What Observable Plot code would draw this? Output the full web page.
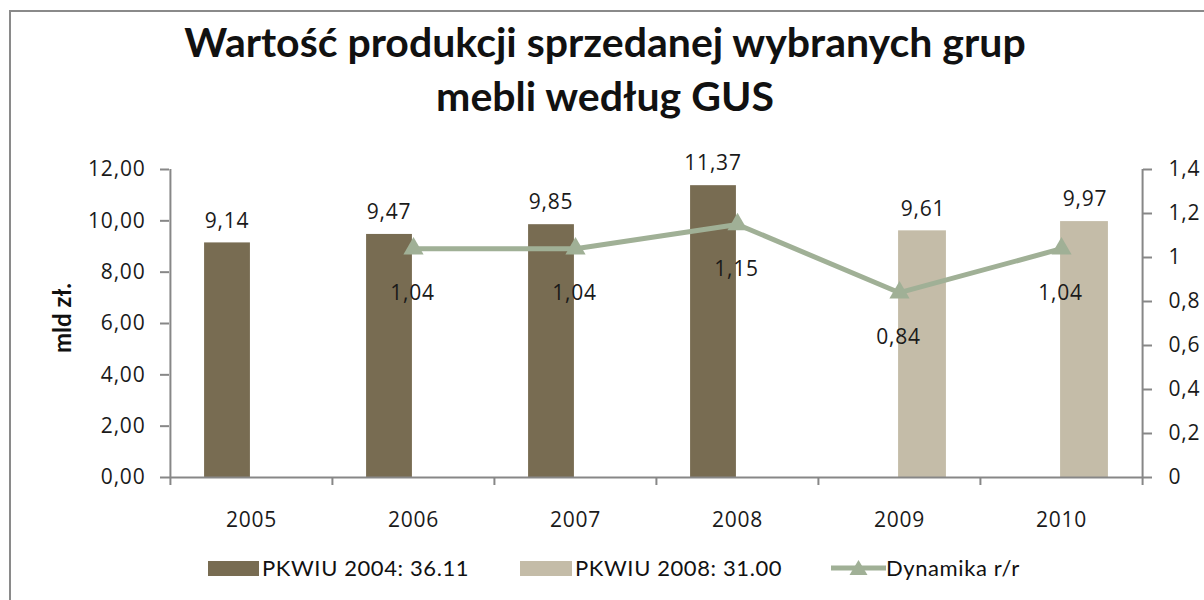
<!DOCTYPE html>
<html><head><meta charset="utf-8">
<script src="https://cdn.jsdelivr.net/npm/d3@7"></script>
<script src="https://cdn.jsdelivr.net/npm/@observablehq/plot@0.6"></script>
<style>
body{margin:0;background:#fff;}
#wrap{position:relative;width:1204px;height:600px;overflow:hidden;font-family:"Open Sans",sans-serif;color:#1a1a1a;background:#fff}
#frame{position:absolute;left:9px;top:10px;width:1230px;height:630px;border:2px solid #8a8a8a;box-sizing:border-box}
#title{position:absolute;left:9px;width:1192px;top:15px;text-align:center;font-family:Lato,sans-serif;font-weight:bold;font-size:41px;line-height:54px;color:#111}
#chart{position:absolute;left:0;top:140px}
#ylab{position:absolute;left:61px;top:318px;transform:translate(-50%,-50%) rotate(-90deg);font-family:Lato,sans-serif;font-weight:bold;font-size:24px;white-space:nowrap;color:#111}
.lg{position:absolute;font-family:Lato,sans-serif;font-size:22px;letter-spacing:0.6px;line-height:22px;top:557px;white-space:nowrap;color:#111}
.sw{position:absolute;top:561px;height:15px}
</style>
</head><body>
<div id="wrap">
<div id="frame"></div>
<div id="title">Wartość produkcji sprzedanej wybranych grup<br>mebli według GUS</div>
<div id="chart"></div>
<div id="ylab">mld zł.</div>
<div id="legend"></div>
</div>
<script>
const years = ["2005", "2006", "2007", "2008", "2009", "2010"];
const pkwiu2004 = [9.14, 9.47, 9.85, 11.37, null, null];
const pkwiu2008 = [null, null, null, null, 9.61, 9.97];
const dynamika = [null, 1.04, 1.04, 1.15, 0.84, 1.04];
const leftTicks = [0, 2, 4, 6, 8, 10, 12];
const rightTicks = [0, 0.2, 0.4, 0.6, 0.8, 1, 1.2, 1.4];
const seriesNames = ["PKWIU 2004: 36.11", "PKWIU 2008: 31.00", "Dynamika r/r"];
const colors = ["#786c52", "#c4bca8", "#a0b096"];

const W = 1204, H = 400, mL = 169, mR = 62, mT = 29, mB = 63;
const bw = (W - mL - mR) / years.length;
const barW = 47;
const FS = 21;
const k = 12 / 1.4; // right axis -> left axis units
const numFmt = v => v.toFixed(2).replace(".", ",");
const rightFmt = d => String(Math.round(d / k * 10) / 10).replace(".", ",");

const dark = years.map((y, i) => ({year: y, v: pkwiu2004[i]})).filter(d => d.v != null);
const light = years.map((y, i) => ({year: y, v: pkwiu2008[i]})).filter(d => d.v != null);
const dyn = years.map((y, i) => ({year: y, v: dynamika[i]})).filter(d => d.v != null);
const axisGray = "#878787";
const txt = "#1a1a1a";

const chart = Plot.plot({
  width: W, height: H,
  marginLeft: mL, marginRight: mR, marginTop: mT, marginBottom: mB,
  style: {fontFamily: "'Open Sans', sans-serif", fontSize: FS + "px", letterSpacing: "0.8px", color: txt, background: "transparent"},
  x: {domain: years, padding: 0, axis: null, label: null},
  y: {domain: [0, 12], axis: null, label: null},
  marks: [
    Plot.barY(dark, {x: "year", y: "v", fill: colors[0], insetLeft: bw / 2 - barW, insetRight: bw / 2 + 1}),
    Plot.barY(light, {x: "year", y: "v", fill: colors[1], insetLeft: bw / 2 - 1, insetRight: bw / 2 - barW}),
    // axes lines
    Plot.ruleY([0], {stroke: axisGray, strokeWidth: 2}),
    Plot.ruleX([years[0]], {y1: 0, y2: 12, dx: -bw / 2, stroke: axisGray, strokeWidth: 2}),
    Plot.ruleX([years[years.length - 1]], {y1: 0, y2: 1.4 * k, dx: bw / 2, stroke: axisGray, strokeWidth: 2}),
    // x boundary ticks
    Plot.ruleX(years, {y1: 0, y2: -8 / 25.67, dx: -bw / 2, stroke: axisGray, strokeWidth: 2}),
    Plot.ruleX([years[years.length - 1]], {y1: 0, y2: -8 / 25.67, dx: bw / 2, stroke: axisGray, strokeWidth: 2}),
    Plot.axisX({tickSize: 0, tickPadding: 35, fontSize: FS, label: null, fill: txt}),
    Plot.axisY({anchor: "left", ticks: leftTicks, tickFormat: numFmt, tickSize: 9, tickPadding: 15, stroke: axisGray, strokeWidth: 2, label: null, fontSize: FS, fill: txt}),
    Plot.axisY({anchor: "right", ticks: rightTicks.map(v => v * k), tickFormat: rightFmt, tickSize: 9, tickPadding: 17, stroke: axisGray, strokeWidth: 2, label: null, fontSize: FS, fill: txt}),
    // line
    Plot.line(dyn, {x: "year", y: d => d.v * k, stroke: colors[2], strokeWidth: 5}),
    Plot.dot(dyn, {x: "year", y: d => d.v * k, symbol: "triangle", r: 7.5, fill: colors[2]}),
    // labels
    Plot.text(dark, {x: "year", y: "v", text: d => numFmt(d.v), dx: -barW / 2 - 1, dy: -22, fill: txt, fontSize: FS}),
    Plot.text(light, {x: "year", y: "v", text: d => numFmt(d.v), dx: barW / 2, dy: -22, fill: txt, fontSize: FS}),
    Plot.text(dyn, {x: "year", y: d => d.v * k, text: d => numFmt(d.v), dx: -1, dy: 45, fill: txt, fontSize: FS})
  ]
});
document.getElementById("chart").appendChild(chart);

// legend
const lg = document.getElementById("legend");
const items = [
  {sw: 208, swW: 51, tx: 262, type: "bar"},
  {sw: 520, swW: 52, tx: 575, type: "bar"},
  {sw: 831, swW: 55, tx: 886, type: "line"}
];
items.forEach((it, i) => {
  if (it.type === "bar") {
    const s = document.createElement("div");
    s.className = "sw";
    s.style.left = it.sw + "px"; s.style.width = it.swW + "px"; s.style.background = colors[i];
    lg.appendChild(s);
  } else {
    const ns = "http://www.w3.org/2000/svg";
    const svg = document.createElementNS(ns, "svg");
    svg.setAttribute("width", it.swW); svg.setAttribute("height", 24);
    svg.style.position = "absolute"; svg.style.left = it.sw + "px"; svg.style.top = "556px";
    const ln = document.createElementNS(ns, "line");
    ln.setAttribute("x1", 0); ln.setAttribute("x2", it.swW); ln.setAttribute("y1", 12); ln.setAttribute("y2", 12);
    ln.setAttribute("stroke", colors[i]); ln.setAttribute("stroke-width", 5);
    svg.appendChild(ln);
    const tri = document.createElementNS(ns, "path");
    const cx = it.swW / 2;
    tri.setAttribute("d", `M${cx},4 L${cx + 9},19 L${cx - 9},19 Z`);
    tri.setAttribute("fill", colors[i]);
    svg.appendChild(tri);
    lg.appendChild(svg);
  }
  const t = document.createElement("div");
  t.className = "lg";
  t.style.left = it.tx + "px";
  t.textContent = seriesNames[i];
  lg.appendChild(t);
});
</script>
</body></html>
